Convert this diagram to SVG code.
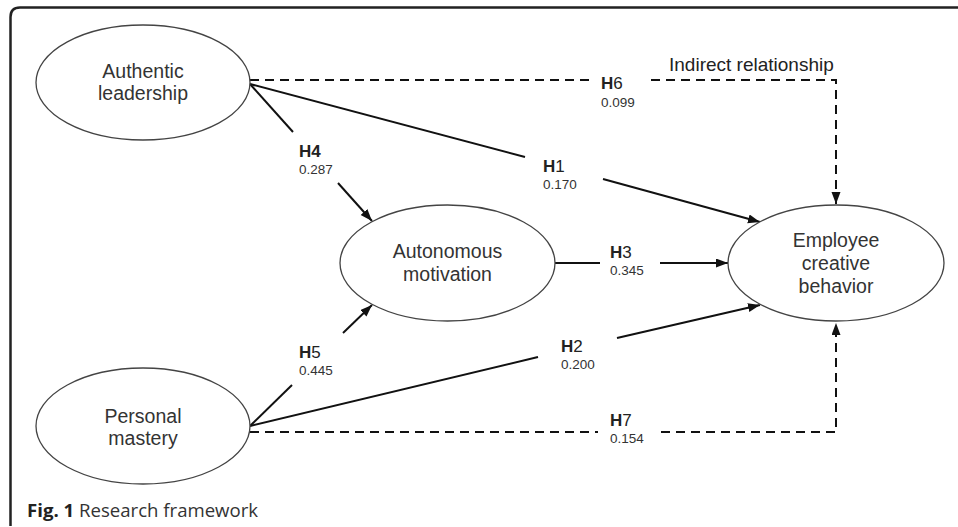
<svg xmlns="http://www.w3.org/2000/svg" width="958" height="527" viewBox="0 0 958 527">
<defs>
<marker id="arr" markerUnits="userSpaceOnUse" markerWidth="13" markerHeight="10" refX="12" refY="4.5" orient="auto">
<path d="M0,0 L12,4.5 L0,9 z" fill="#111"/>
</marker>
<style>
.node ellipse{fill:#fff;stroke:#444;stroke-width:1.3}
.node text{font-family:"Liberation Sans",Arial,sans-serif;font-size:19.5px;fill:#333;text-anchor:middle}
.solid{fill:none;stroke:#111;stroke-width:2}
.dash{fill:none;stroke:#111;stroke-width:2;stroke-dasharray:9 6}
.lab{font-family:"Liberation Sans",Arial,sans-serif;fill:#222}
.h{font-size:17px}
.b{font-weight:bold}
.v{font-size:13.5px;fill:#333}
.cap{font-family:"Open Sans","Liberation Sans",sans-serif;font-size:18.6px;fill:#333}
</style>
</defs>
<rect width="958" height="527" fill="#fff"/>
<path d="M10.5,526 V17 Q10.5,7.5 20,7.5 H958" fill="none" stroke="#222" stroke-width="2.5"/>

<g id="connectors">
<path class="dash" d="M250,80 H591"/>
<path class="dash" d="M651,80 H836 V204" marker-end="url(#arr)"/>
<path class="dash" d="M250,432 H598"/>
<path class="dash" d="M661,432 H836 V323" marker-end="url(#arr)"/>
<path class="solid" d="M250,84 L525,157"/>
<path class="solid" d="M603,179 L760,222" marker-end="url(#arr)"/>
<path class="solid" d="M250,84 L293,132"/>
<path class="solid" d="M338,183 L372,221" marker-end="url(#arr)"/>
<path class="solid" d="M555,263 H600"/>
<path class="solid" d="M660,263 H728" marker-end="url(#arr)"/>
<path class="solid" d="M250,426 L292,385"/>
<path class="solid" d="M343,333 L372,305" marker-end="url(#arr)"/>
<path class="solid" d="M250,426 L538,357"/>
<path class="solid" d="M617,338 L760,305" marker-end="url(#arr)"/>
</g>

<g id="labels">
<text class="lab" x="669" y="71" font-size="19">Indirect relationship</text>
<text class="lab h" x="601" y="89"><tspan class="b">H</tspan>6</text>
<text class="lab v" x="601" y="107">0.099</text>
<text class="lab h" x="543" y="172"><tspan class="b">H</tspan>1</text>
<text class="lab v" x="543" y="189">0.170</text>
<text class="lab h b" x="299" y="157">H4</text>
<text class="lab v" x="299" y="174">0.287</text>
<text class="lab h" x="610" y="258"><tspan class="b">H</tspan>3</text>
<text class="lab v" x="610" y="275">0.345</text>
<text class="lab h" x="299" y="358"><tspan class="b">H</tspan>5</text>
<text class="lab v" x="299" y="375">0.445</text>
<text class="lab h" x="561" y="352"><tspan class="b">H</tspan>2</text>
<text class="lab v" x="561" y="369">0.200</text>
<text class="lab h" x="610" y="426"><tspan class="b">H</tspan>7</text>
<text class="lab v" x="610" y="443">0.154</text>
</g>

<g id="authentic" class="node">
<ellipse cx="143" cy="82.5" rx="107" ry="57.5"/>
<text x="143" y="78">Authentic</text>
<text x="143" y="100">leadership</text>
</g>
<g id="personal" class="node">
<ellipse cx="143" cy="426" rx="107" ry="58"/>
<text x="143" y="423">Personal</text>
<text x="143" y="445">mastery</text>
</g>
<g id="autonomous" class="node">
<ellipse cx="447.5" cy="263" rx="107.5" ry="58"/>
<text x="447.5" y="258">Autonomous</text>
<text x="447.5" y="281">motivation</text>
</g>
<g id="employee" class="node">
<ellipse cx="836" cy="263" rx="108" ry="58"/>
<text x="836" y="247">Employee</text>
<text x="836" y="270">creative</text>
<text x="836" y="293">behavior</text>
</g>

<text class="cap" x="27" y="517"><tspan font-weight="bold" fill="#222">Fig. 1</tspan> Research framework</text>
</svg>
